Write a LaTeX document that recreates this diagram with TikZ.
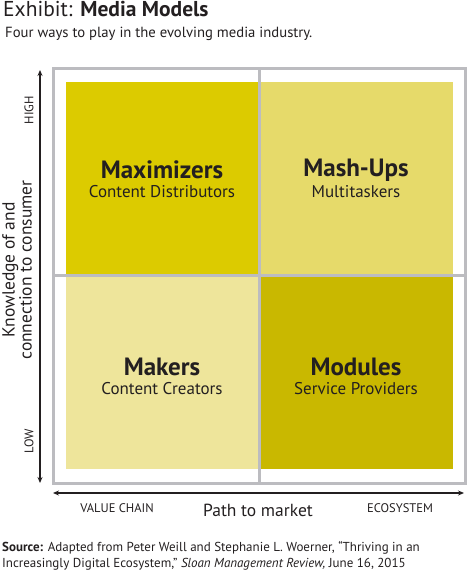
\documentclass[tikz,border=0pt]{standalone}
\usepackage{fontspec}
\setmainfont{PT Sans}
\usetikzlibrary{arrows.meta}
\definecolor{qTL}{HTML}{DCCB00}
\definecolor{qTR}{HTML}{E6DA6A}
\definecolor{qBL}{HTML}{EEE59B}
\definecolor{qBR}{HTML}{C9B800}
\definecolor{frameg}{HTML}{BCBCC0}
\definecolor{ink}{HTML}{231F20}
\begin{document}
\begin{tikzpicture}[x=1pt,y=-1pt,
  every node/.style={text=ink, inner sep=0pt},
  bigl/.style={font=\fontsize{25}{27}\selectfont\bfseries},
  smalll/.style={font=\fontsize{17}{19}\selectfont},
  tick/.style={font=\fontsize{12.5}{14}\selectfont},
  axisl/.style={font=\fontsize{17.5}{19}\selectfont},
  axarrow/.style={ink, line width=1.2pt, {Stealth[length=6pt,width=5pt]}-{Stealth[length=6pt,width=5pt]}}]
\useasboundingbox (0,0) rectangle (468,572);
% quadrants
\fill[qTL] (66,82) rectangle (258,274);
\fill[qTR] (260,82) rectangle (453,274);
\fill[qBL] (66,276) rectangle (258,469);
\fill[qBR] (260,276) rectangle (453,469);
% frame
\draw[frameg, line width=3pt] (53,69) rectangle (465,483);
\draw[frameg, line width=3pt] (259,69) -- (259,483);
\draw[frameg, line width=3pt] (53,275) -- (465,275);
% title
\node[anchor=base west, font=\fontsize{21.5}{23}\selectfont] (title) at (3,17) {Exhibit: \textbf{Media Models}};
\node[anchor=base west, font=\fontsize{14.7}{16}\selectfont] (sub) at (5,38) {Four ways to play in the evolving media industry.};
% quadrant labels
\node[bigl] (maxi) at (162,170) {Maximizers};
\node[smalll] (maxs) at (162,192) {Content Distributors};
\node[bigl] (mash) at (356,170) {Mash-Ups};
\node[smalll] (mashs) at (356,192) {Multitaskers};
\node[bigl] (make) at (162,367) {Makers};
\node[smalll] (makes) at (162,389) {Content Creators};
\node[bigl] (modu) at (356,367) {Modules};
\node[smalll] (modus) at (356,389) {Service Providers};
% axes
\coordinate (vt) at (40,70);
\coordinate (vb) at (40,483);
\draw[axarrow] (vt) -- (vb);
\coordinate (hl) at (53,493);
\coordinate (hr) at (464,493);
\draw[axarrow] (hl) -- (hr);
\node[tick, rotate=90] (high) at (29,110) {HIGH};
\node[tick, rotate=90] (low) at (29,441) {LOW};
\node[rotate=90, align=center, font=\fontsize{17.5}{16}\selectfont] (ylab) at (17,270) {Knowledge of and\\connection to consumer};
\node[tick] (vc) at (117,508) {VALUE CHAIN};
\node[tick] (eco) at (400,508) {ECOSYSTEM};
\node[axisl] (path) at (258,510) {Path to market};
% source
\node[anchor=base west, align=left, font=\fontsize{13}{16}\selectfont] (src) at (2,567) {\textbf{Source:} Adapted from Peter Weill and Stephanie L. Woerner, ``Thriving in an\\Increasingly Digital Ecosystem,'' \textit{Sloan Management Review,} June 16, 2015};
\end{tikzpicture}
\end{document}
